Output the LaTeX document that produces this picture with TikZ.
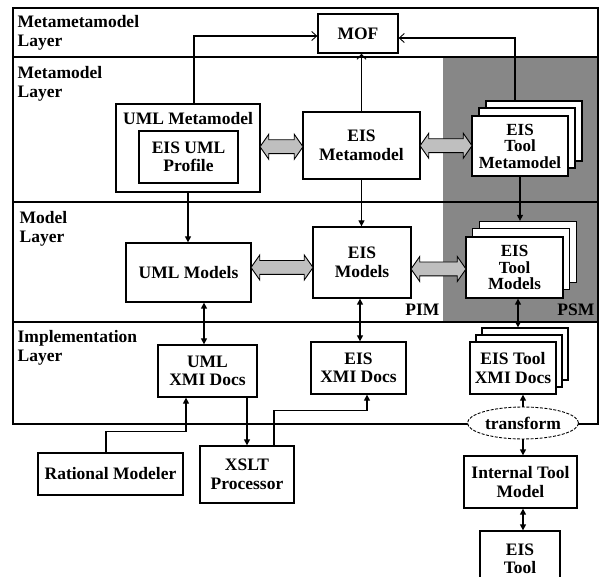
\documentclass[tikz,border=0pt]{standalone}
\usepackage{fontspec}
\setmainfont{Liberation Serif}
\usetikzlibrary{positioning, arrows.meta, shapes.geometric, shapes.arrows}

\begin{document}
\begin{tikzpicture}[x=1pt, y=-1pt, line width=1.3pt,
	font=\fontsize{17.5}{18.5}\selectfont\bfseries,
	box/.style={draw, fill=white, align=center, inner sep=1pt},
	page/.style={draw, fill=white},
	tight/.style={font=\fontsize{17}{16.5}\selectfont\bfseries},
	fwd/.style={-{Triangle[length=6pt, width=6pt]}},
	both/.style={{Triangle[length=6pt, width=6pt]}-{Triangle[length=6pt, width=6pt]}},
	toup/.style={-{Straight Barb[length=5pt, width=9pt, line width=0.9pt]}},
	widearrow/.style={double arrow, draw, fill=black!25, line width=0.9pt, inner xsep=0pt, inner ysep=6.5pt,
		double arrow head extend=5.5pt, double arrow tip angle=110}]
		\useasboundingbox (0,0) rectangle (600,577);
		
		%couches
		\fill[black!47] (443,57) rectangle (598,322);
		\draw (13,8) rectangle (598,424);
		\draw (13,57) -- (598,57);
		\draw (13,202) -- (598,202);
		\draw (13,322) -- (598,322);
		\node[anchor=north west, align=left, inner sep=0pt] (lmm) at (17,15) {Metametamodel\\Layer};
		\node[anchor=north west, align=left, inner sep=0pt] (lm) at (17,66) {Metamodel\\Layer};
		\node[anchor=north west, align=left, inner sep=0pt] (lmod) at (19,211) {Model\\Layer};
		\node[anchor=north west, align=left, inner sep=0pt] (limp) at (17,330) {Implementation\\Layer};
		\node[anchor=base east, inner sep=0pt] (pim) at (440,316) {PIM};
		\node[anchor=base east, inner sep=0pt] (psm) at (595,316) {PSM};
		
		%metametamodel
		\node[box, minimum width=80pt, minimum height=39pt] (mof) at (358,33.5) {MOF};
		
		%metamodel
		\node[box, minimum width=144pt, minimum height=88pt] (umlmeta) at (188,148) {};
		\node[inner sep=0pt] (umlmetatxt) at (188,119) {UML Metamodel};
		\node[box, minimum width=99pt, minimum height=52pt] (profile) at (188.5,157) {EIS UML\\Profile};
		\node[box, minimum width=117pt, minimum height=67pt] (eismeta) at (361.5,145.5) {EIS\\Metamodel};
		\node[page, minimum width=96pt, minimum height=60pt] (toolmetaC) at (534,131) {};
		\node[page, minimum width=96pt, minimum height=60pt] (toolmetaB) at (527,138) {};
		\node[box, tight, minimum width=96pt, minimum height=60pt] (toolmeta) at (520,146) {EIS\\Tool\\Metamodel};
		
		%model
		\node[box, minimum width=125pt, minimum height=59pt] (umlmodels) at (188.5,272.5) {UML Models};
		\node[box, minimum width=98pt, minimum height=71pt] (eismodels) at (362,262.5) {EIS\\Models};
		\node[page, minimum width=97pt, minimum height=61pt] (toolmodelsC) at (528,252) {};
		\node[page, minimum width=97pt, minimum height=61pt] (toolmodelsB) at (521,259) {};
		\node[box, tight, minimum width=97pt, minimum height=61pt] (toolmodels) at (514.5,267.5) {EIS\\Tool\\Models};
		
		%implementation
		\node[box, minimum width=99pt, minimum height=52pt] (umlxmi) at (207.5,371) {UML\\XMI Docs};
		\node[box, minimum width=95pt, minimum height=52pt] (eisxmi) at (358.5,368) {EIS\\XMI Docs};
		\node[page, minimum width=86pt, minimum height=52pt] (toolxmiC) at (525,354) {};
		\node[page, minimum width=86pt, minimum height=52pt] (toolxmiB) at (519,361) {};
		\node[box, minimum width=86pt, minimum height=52pt] (toolxmi) at (513,368) {EIS Tool\\XMI Docs};
		
		%outils
		\node[box, minimum width=145pt, minimum height=42pt] (rational) at (110.5,474) {Rational Modeler};
		\node[box, minimum width=94pt, minimum height=57pt] (xslt) at (247,474.5) {XSLT\\Processor};
		\node[ellipse, draw, dash pattern=on 3pt off 1.5pt, fill=white, line width=0.9pt, minimum width=111pt, minimum height=32pt, inner sep=0pt] (transform) at (523,423) {transform};
		\node[box, minimum width=113pt, minimum height=52pt] (internal) at (520.5,482) {Internal Tool\\Model};
		\node[box, minimum width=80pt, minimum height=56pt] (eistool) at (520,559) {EIS\\Tool};
		
		%fleches larges
		\path (umlmeta.east) -- (eismeta.west) node[midway, widearrow, minimum height=43pt] (w1) {};
		\path (eismeta.east) -- (toolmeta.west) node[midway, widearrow, minimum height=52pt] (w2) {};
		\path (umlmodels.east) -- (eismodels.west) node[midway, widearrow, minimum height=62pt] (w3) {};
		\path ([yshift=-8pt]eismodels.east) -- (toolmodels.west) node[midway, widearrow, minimum height=55pt] (w4) {};
		
		%vers MOF
		\draw[toup] ([xshift=6pt]umlmeta.north) |- ([yshift=-2.5pt]mof.west);
		\draw[toup] (eismeta.north) -- (eismeta.north |- mof.south);
		\draw[toup] ([xshift=-19pt]toolmetaC.north) |- ([yshift=-4.5pt]mof.east);
		
		%instances
		\draw[fwd] (umlmeta.south) -- (umlmeta.south |- umlmodels.north);
		\draw[fwd] (eismeta.south) -- (eismeta.south |- eismodels.north);
		\draw[fwd] (toolmeta.south) -- (toolmeta.south |- toolmodelsC.north);
		\draw[both] ([xshift=15.5pt]umlmodels.south) -- ([xshift=-3.5pt]umlxmi.north);
		\draw[both] ([xshift=-2pt]eismodels.south) -- ([xshift=1.5pt]eisxmi.north);
		\draw[both] ([xshift=3.5pt]toolmodels.south) -- ([xshift=-7pt]toolxmiC.north);
		
		%outils
		\draw[fwd] ([xshift=-4.5pt]rational.north) -- ++(0,-21) -| ([xshift=-21.5pt]umlxmi.south);
		\draw[fwd] ([xshift=39.5pt]umlxmi.south) -- (xslt.north);
		\draw[fwd] ([xshift=27pt]xslt.north) -- ++(0,-35) -| ([xshift=8.5pt]eisxmi.south);
		\draw[fwd] (transform.north) -- (transform.north |- toolxmi.south);
		\draw[fwd] (transform.south) -- (transform.south |- internal.north);
		\draw[both] (transform.south |- internal.south) -- (transform.south |- eistool.north);
		
	\end{tikzpicture}
\end{document}
